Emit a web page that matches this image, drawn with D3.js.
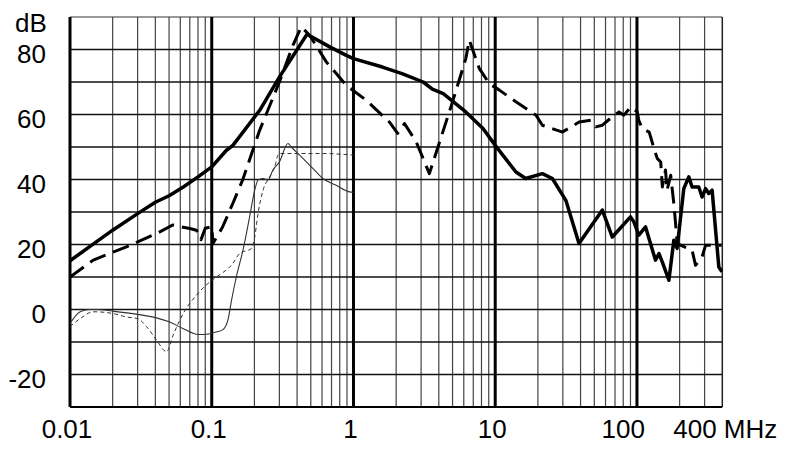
<!DOCTYPE html>
<html>
<head>
<meta charset="utf-8">
<script src="https://cdn.jsdelivr.net/npm/d3@7"></script>
<style>
  body { margin: 0; background: #fff; }
  text { font-family: "Liberation Sans", Arial, sans-serif; font-size: 26px; fill: #000; }
</style>
</head>
<body>
<svg id="chart" width="790" height="452"></svg>
<script>
// frequency in MHz, level in dB
var thickSolid = [
    [0.01, 15], [0.02, 24.4], [0.03, 29.5], [0.04, 33], [0.05, 35], [0.063, 37.7], [0.08, 40.8],
    [0.1, 43.9], [0.127, 49], [0.141, 50.5], [0.218, 61.3], [0.3, 71.5], [0.47, 84.7],
    [0.68, 80.8], [0.89, 78.2], [1, 77.2], [1.6, 74.6], [2.2, 72.6], [3.1, 70], [3.6, 67.8],
    [4.3, 66.4], [6.2, 60.8], [8.2, 55.7], [10, 50.5], [14, 42.3], [16.4, 40.3], [21.5, 41.8],
    [25.3, 40.3], [31.5, 33.6], [39, 20.3], [57, 30.6], [67, 22.3], [90, 28.5], [95, 27],
    [103, 22.9], [115, 25.4], [135, 15.2], [143, 17.2], [151, 14.6], [168, 9], [182, 21.3],
    [192, 18.8], [214, 37.2], [232, 40.8], [245, 37.7], [273, 37.7], [288, 34.6], [305, 37.2],
    [321, 35.7], [339, 36.7], [378, 13.1], [398, 11.6]
];
var thickDashed = [
    [0.01, 10], [0.0146, 15.2], [0.025, 19.3], [0.041, 23.4], [0.053, 26], [0.07, 24.9],
    [0.078, 24.4], [0.084, 21.5], [0.09, 25], [0.1, 25.5], [0.102, 20.3], [0.119, 25.3],
    [0.141, 32.7], [0.165, 39.8], [0.218, 55.2], [0.3, 70], [0.374, 81.3], [0.428, 87],
    [0.49, 84.4], [0.643, 76.2], [0.889, 69], [1.23, 64.4], [1.79, 57.7], [2.05, 54.2],
    [2.29, 57.2], [2.77, 51.6], [3.43, 41.8], [5, 63.9], [6.2, 77.2], [6.56, 82.9], [7.71, 74.2],
    [9.08, 69.5], [10.7, 67.5], [14, 63.9], [19.4, 59.8], [21.5, 56.7], [29.8, 54.6],
    [39.1, 57.7], [47.2, 58.2], [51.2, 56.2], [57, 56.7], [67, 59.3], [74.7, 60.8], [80.9, 59.8],
    [90.3, 62.3], [100.5, 60.8], [103, 58.2], [109, 55.7], [122, 54.6], [132, 49.5], [139, 46.5],
    [147, 45.4], [151, 37.7], [159, 42.9], [163, 36.7], [173, 41.3], [182, 32.6], [189, 24.4],
    [192, 20.3], [203, 19.8], [245, 18.2], [259, 13.6], [288, 16.2], [305, 19.8], [395, 19.8]
];
var thinSolid = [
    [0.01, -4.3], [0.0118, -0.7], [0.0138, 0], [0.0154, 0], [0.02, -0.5], [0.03, -1.5],
    [0.04, -2.5], [0.05, -3.8], [0.063, -5.9], [0.08, -7.7], [0.092, -7.6], [0.108, -6.9],
    [0.12, -6.2], [0.13, -3.3], [0.138, 2.9], [0.149, 10], [0.166, 18.2], [0.185, 28.5],
    [0.201, 36.7], [0.212, 39.8], [0.23, 40.3], [0.249, 39.8], [0.27, 42.9], [0.3, 45.4],
    [0.345, 51.1], [0.364, 50], [0.417, 47.5], [0.517, 43.4], [0.608, 40.3], [0.755, 38.2],
    [0.937, 36.2], [1, 36.1]
];
var thinDashed = [
    [0.01, -5.3], [0.0118, -2.8], [0.0146, -0.7], [0.02, -1.2], [0.025, -2.3], [0.03, -2.8],
    [0.0347, -5.3], [0.0408, -9.4], [0.048, -13], [0.0534, -7.9], [0.063, -1.2], [0.078, 4.4],
    [0.097, 8.5], [0.108, 10], [0.141, 14.2], [0.157, 17.2], [0.191, 18.8], [0.201, 22.3],
    [0.212, 29.5], [0.23, 36.7], [0.256, 40.8], [0.278, 43.9], [0.293, 47.5], [0.3, 48],
    [0.6, 48], [1, 47.5]
];

var yLabels = [80, 60, 40, 20, 0, -20];
var xLabels = [0.01, 0.1, 1, 10, 100];
var decades = [0.01, 0.1, 1, 10, 100];

let svg = d3.select("#chart");
svg.append("rect").attr("width", 790).attr("height", 452).attr("fill", "#fff");

var x = d3.scaleLog().domain([0.01, 400]).range([70, 722.3]);
var y = d3.scaleLinear().domain([-30, 90]).range([407, 17]);

/* minor vertical grid: 2..9 in every decade, up to 300 */
let minor = [];
decades.forEach(function(d) {
    for (let k = 2; k <= 9; k++) {
        let v = d * k;
        if (v < 400) minor.push(v);
    }
});

let grid = svg.append("g");
grid.selectAll(".minor").data(minor).enter().append("line")
    .attr("x1", d => x(d)).attr("x2", d => x(d))
    .attr("y1", y(90)).attr("y2", y(-30))
    .attr("stroke", "#444").attr("stroke-width", 1.2);

// horizontal lines every 10 dB
grid.selectAll(".hline").data(d3.range(-20, 90, 10)).enter().append("line")
    .attr("x1", x(0.01)).attr("x2", x(400))
    .attr("y1", d => y(d)).attr("y2", d => y(d))
    .attr("stroke", "#111").attr("stroke-width", 1.3);

// frame
grid.append("line").attr("x1", x(0.01)).attr("x2", x(400)).attr("y1", y(90)).attr("y2", y(90))
    .attr("stroke", "#333").attr("stroke-width", 1);
grid.append("line").attr("x1", x(0.01)).attr("x2", x(400)).attr("y1", y(-30)).attr("y2", y(-30))
    .attr("stroke", "#000").attr("stroke-width", 1.8);
grid.append("line").attr("x1", x(400)).attr("x2", x(400)).attr("y1", y(90)).attr("y2", y(-30))
    .attr("stroke", "#222").attr("stroke-width", 1.5);

// decade lines are heavy
grid.selectAll(".decade").data(decades).enter().append("line")
    .attr("x1", d => x(d)).attr("x2", d => x(d))
    .attr("y1", y(90)).attr("y2", y(-30))
    .attr("stroke", "#000").attr("stroke-width", 3);

/* curves */
svg.append("clipPath").attr("id", "plot").append("rect")
    .attr("x", x(0.01)).attr("y", y(90)).attr("width", x(400) - x(0.01)).attr("height", y(-30) - y(90));

let curves = svg.append("g").attr("clip-path", "url(#plot)");
let straight = d3.line().x(d => x(d[0])).y(d => y(d[1]));
let smooth = d3.line().x(d => x(d[0])).y(d => y(d[1])).curve(d3.curveMonotoneX);

curves.append("path").attr("d", smooth(thinDashed))
    .attr("fill", "none").attr("stroke", "#333").attr("stroke-width", 1)
    .attr("stroke-dasharray", "4,3");
curves.append("path").attr("d", smooth(thinSolid))
    .attr("fill", "none").attr("stroke", "#333").attr("stroke-width", 1.1);
curves.append("path").attr("d", straight(thickDashed))
    .attr("fill", "none").attr("stroke", "#000").attr("stroke-width", 3)
    .attr("stroke-dasharray", "17,8").attr("stroke-linejoin", "round");
curves.append("path").attr("d", straight(thickSolid))
    .attr("fill", "none").attr("stroke", "#000").attr("stroke-width", 3.5)
    .attr("stroke-linejoin", "round");

/* labels */
svg.selectAll(".ylab").data(yLabels).enter().append("text")
    .attr("x", 46).attr("y", d => y(d) + 13)
    .attr("text-anchor", "end")
    .text(d => d);
svg.append("text").attr("x", 15).attr("y", 32).text("dB");

svg.selectAll(".xlab").data(xLabels).enter().append("text")
    .attr("x", d => d == 100 ? x(d) + 8 : x(d) - 3)
    .attr("y", 438)
    .attr("text-anchor", d => d == 100 ? "end" : "middle")
    .text(d => d);
svg.append("text").attr("x", x(400) + 55).attr("y", 438)
    .attr("text-anchor", "end").text("400 MHz");
</script>
</body>
</html>
